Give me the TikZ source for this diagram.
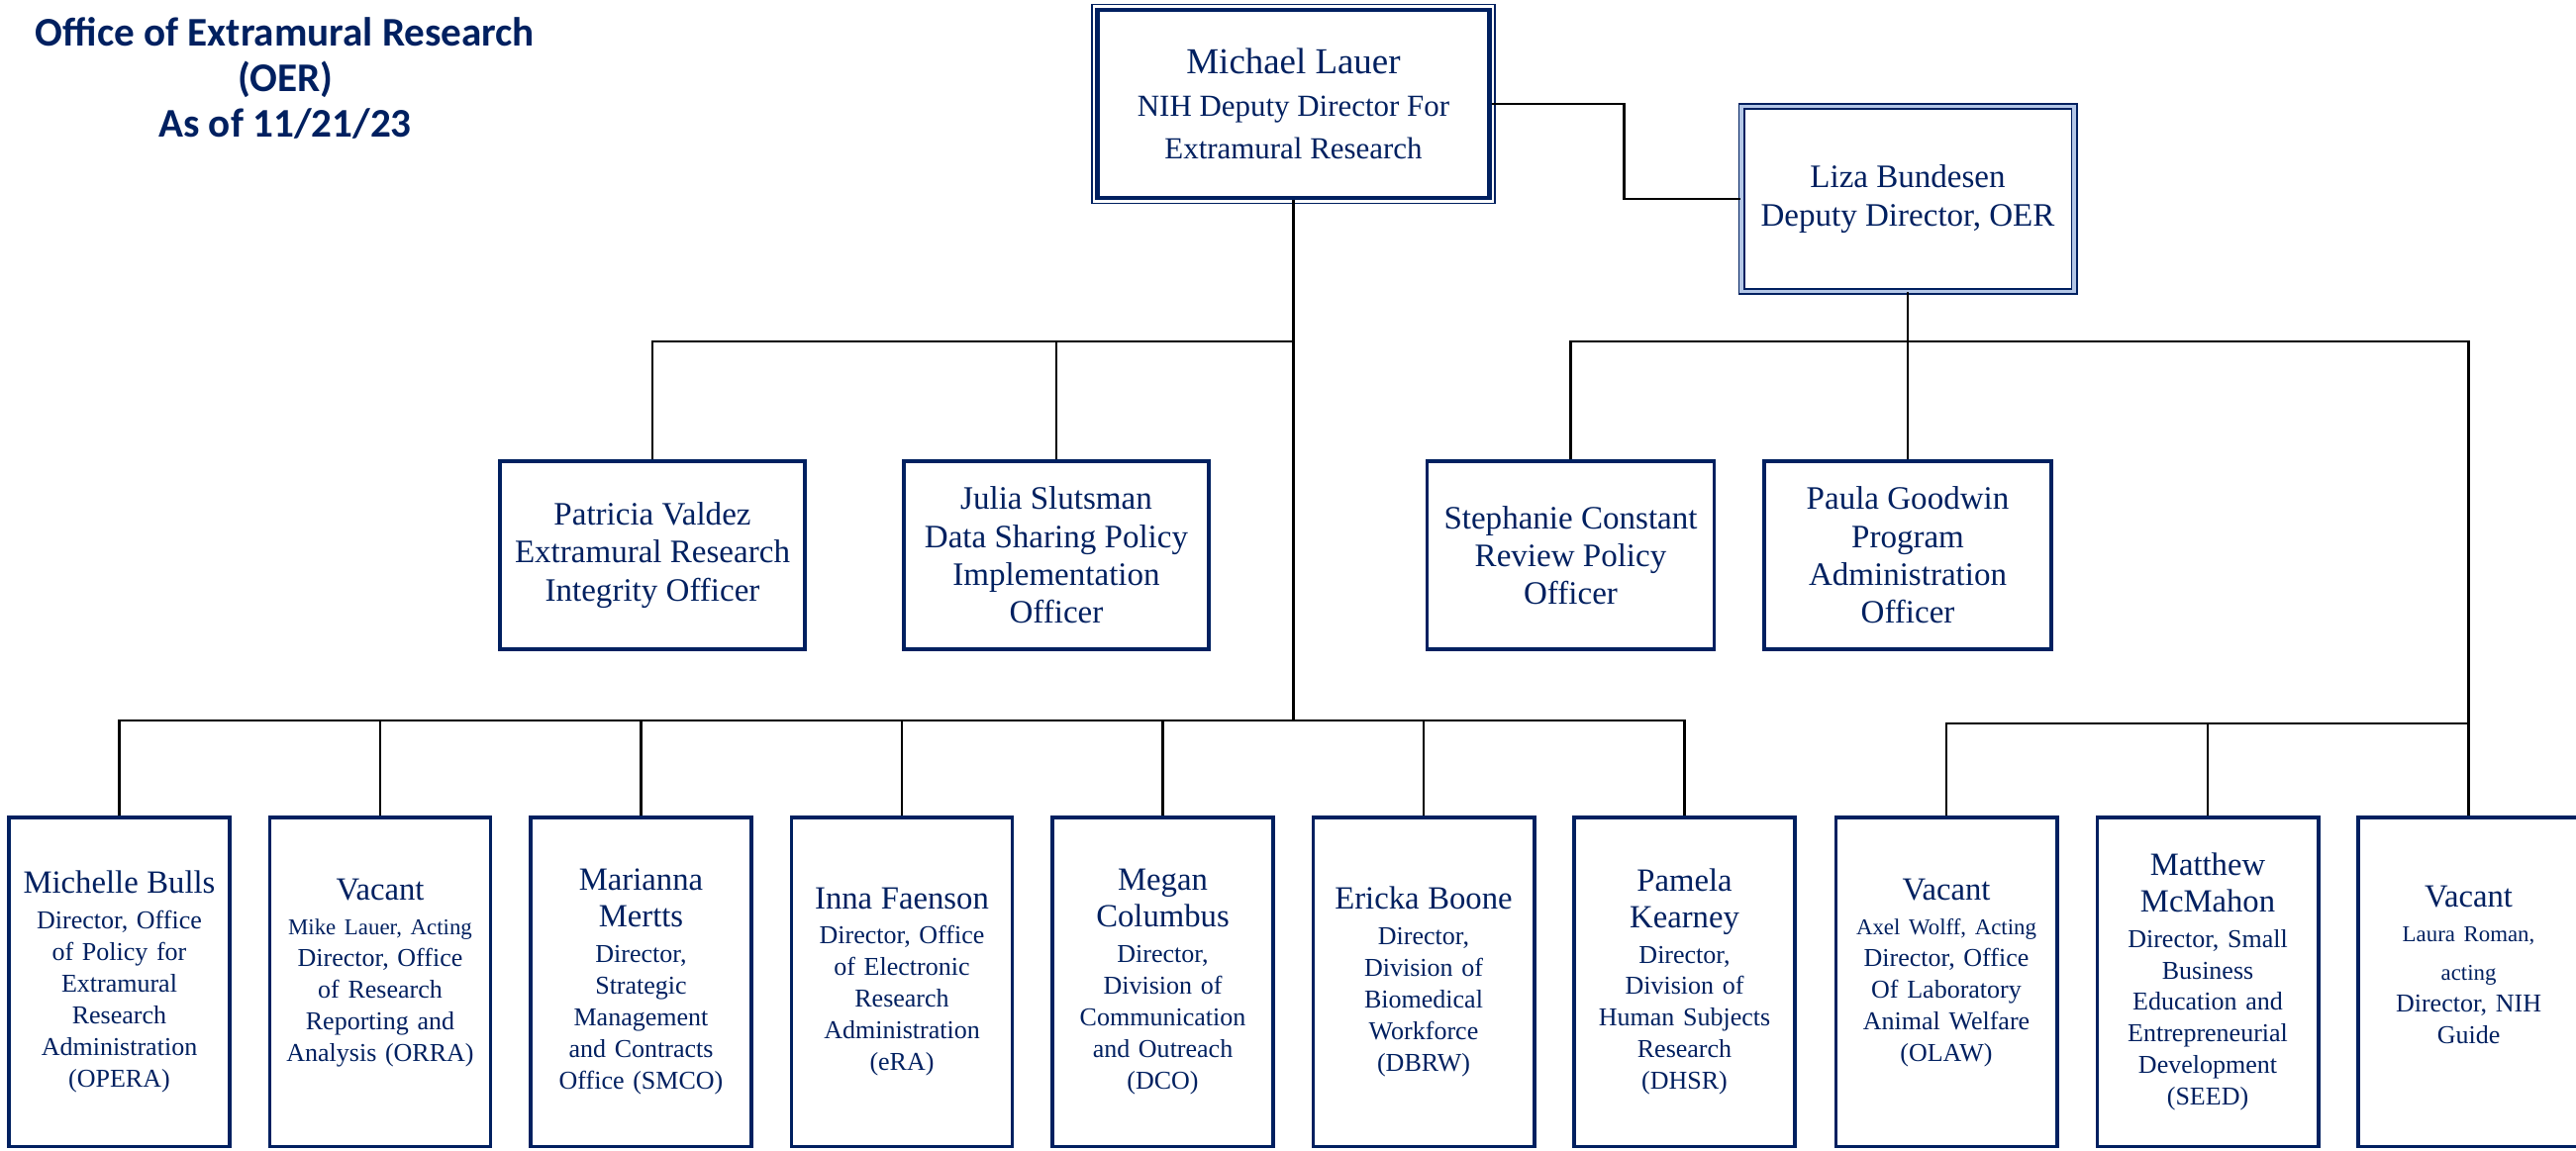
\documentclass[tikz,border=0pt]{standalone}
\usepackage{fontspec}
\setmainfont{Liberation Serif}
\newfontfamily\headfont{Carlito}
\usetikzlibrary{calc,positioning}
\definecolor{navy}{RGB}{0,32,96}
\definecolor{paleblue}{RGB}{180,199,231}
\def\who#1{{\fontsize{9.3}{10.9}\selectfont #1}}
\def\acting#1{{\fontsize{6.5}{9.1}\selectfont #1}}

\begin{document}
\begin{tikzpicture}[every node/.style={text=navy},
  unit/.style={draw=navy, line width=1pt, fill=white, align=center},
  lowbox/.style={unit, minimum width=2.09cm, minimum height=3.325cm, text width=2cm, font=\fontsize{7.4}{9.1}\selectfont},
  midbox/.style={unit, minimum height=1.9cm, font=\fontsize{9.4}{10.9}\selectfont},
  link/.style={line width=0.65pt, black}]
\useasboundingbox (0,0) rectangle (26.02,-11.62);
% heading
\node[font=\headfont\bfseries\fontsize{11.7}{13.1}\selectfont, align=center] (title) at (2.88,-0.79) {Office of Extramural Research\\(OER)\\As of 11/21/23};
% director and deputy
\node[unit, line width=1.2pt, minimum width=3.96cm, minimum height=1.9cm, font=\fontsize{8.8}{12.2}\selectfont] (lauer) at (13.065,-1.05) {{\fontsize{10.5}{12.2}\selectfont Michael Lauer}\\NIH Deputy Director For\\Extramural Research};
\draw[navy, line width=0.4pt] ($(lauer.north west)+(-0.035,0.035)$) rectangle ($(lauer.south east)+(0.035,-0.035)$);
\node[unit, double=paleblue, line width=0.5pt, double distance=1pt, minimum width=3.36cm, minimum height=1.87cm, font=\fontsize{9.4}{10.9}\selectfont] (liza) at (19.27,-2.01) {Liza Bundesen\\Deputy Director, OER};
% officers
\node[midbox, minimum width=3.08cm] (valdez) at (6.59,-5.61) {Patricia Valdez\\Extramural Research\\Integrity Officer};
\node[midbox, minimum width=3.08cm] (slutsman) at (10.67,-5.61) {Julia Slutsman\\Data Sharing Policy\\Implementation\\Officer};
\node[midbox, minimum width=2.9cm] (constant) at (15.865,-5.61) {Stephanie Constant\\Review Policy\\Officer};
\node[midbox, minimum width=2.9cm] (goodwin) at (19.27,-5.61) {Paula Goodwin\\Program\\Administration\\Officer};
% offices and divisions
\node[lowbox] (opera) at (1.205,-9.92) {\who{Michelle Bulls}\\[1pt]Director, Office\\of Policy for\\Extramural\\Research\\Administration\\(OPERA)};
\node[lowbox] (orra) at (3.84,-9.92) {\who{Vacant}\\[1pt]\acting{Mike Lauer, Acting}\\Director, Office\\of Research\\Reporting and\\Analysis (ORRA)\\[-2.3pt]\mbox{}};
\node[lowbox] (smco) at (6.475,-9.92) {\who{Marianna}\\[1.5pt]\who{Mertts}\\[1pt]Director,\\Strategic\\Management\\and Contracts\\Office (SMCO)};
\node[lowbox] (era) at (9.11,-9.92) {\who{Inna Faenson}\\[1pt]Director, Office\\of Electronic\\Research\\Administration\\(eRA)};
\node[lowbox] (dco) at (11.745,-9.92) {\who{Megan}\\[1.5pt]\who{Columbus}\\[1pt]Director,\\Division of\\Communication\\and Outreach\\(DCO)};
\node[lowbox] (dbrw) at (14.38,-9.92) {\who{Ericka Boone}\\[1pt]Director,\\Division of\\Biomedical\\Workforce\\(DBRW)};
\node[lowbox] (dhsr) at (17.015,-9.92) {\who{Pamela}\\[1.5pt]\who{Kearney}\\[1pt]Director,\\Division of\\Human Subjects\\Research\\(DHSR)};
\node[lowbox] (olaw) at (19.66,-9.92) {\who{Vacant}\\[1pt]\acting{Axel Wolff, Acting}\\Director, Office\\Of Laboratory\\Animal Welfare\\(OLAW)\\[-2.3pt]\mbox{}};
\node[lowbox] (seed) at (22.30,-9.92) {\who{Matthew}\\[1.5pt]\who{McMahon}\\[1pt]Director, Small\\Business\\Education and\\Entrepreneurial\\Development\\(SEED)};
\node[lowbox] (guide) at (24.935,-9.92) {\who{Vacant}\\[1pt]\acting{Laura Roman,}\\[2pt]\acting{acting}\\Director, NIH\\Guide\\[0.6pt]\mbox{}};
% lines
\coordinate (midL) at (13.065,-3.45);
\coordinate (lowL) at (13.065,-7.28);
\coordinate (midR) at (19.27,-3.45);
\coordinate (lowR) at (24.935,-7.31);
\draw[link] (lauer.south) -- (lowL);
\draw[link] (lauer.east) -- ++(1.34,0) |- (liza.west);
\draw[link] (valdez.north) |- (midL);
\draw[link] (slutsman.north) |- (midL);
\draw[link] (opera.north) |- (lowL);
\draw[link] (orra.north) |- (lowL);
\draw[link] (smco.north) |- (lowL);
\draw[link] (era.north) |- (lowL);
\draw[link] (dco.north) |- (lowL);
\draw[link] (dbrw.north) |- (lowL);
\draw[link] (dhsr.north) |- (lowL);
\draw[link] (liza.south) -- (goodwin.north);
\draw[link] (constant.north) |- (midR);
\draw[link] (midR) -| (lowR);
\draw[link] (olaw.north) |- (lowR);
\draw[link] (seed.north) |- (lowR);
\draw[link] (guide.north) -- (lowR);
\end{tikzpicture}
\end{document}
